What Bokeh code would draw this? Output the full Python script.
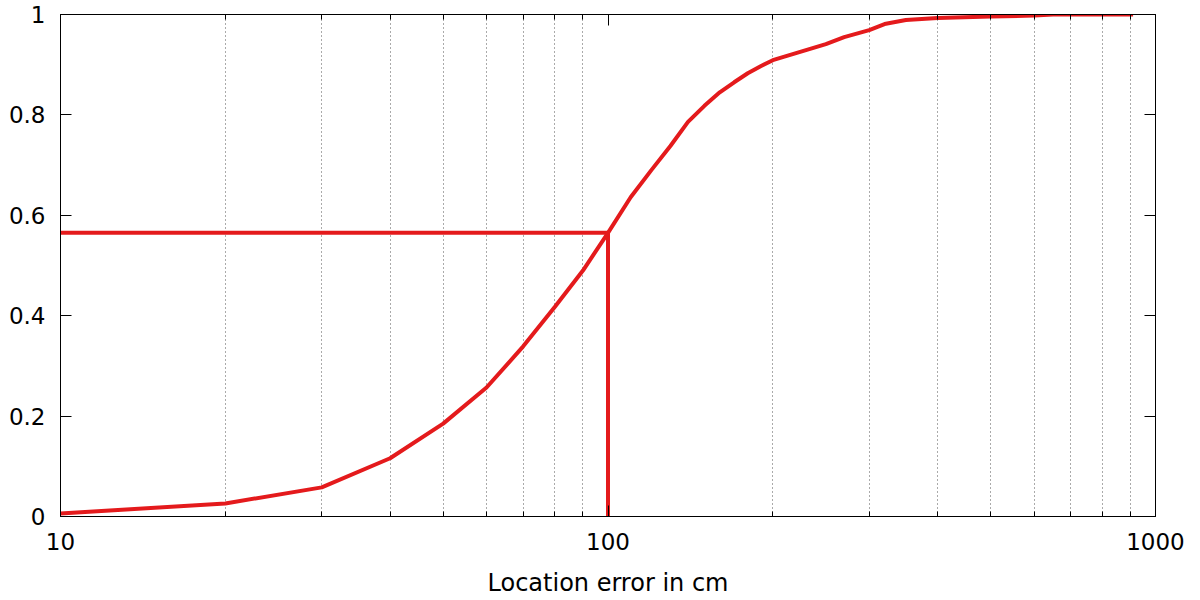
from bokeh.plotting import figure
from bokeh.models import FixedTicker, LogAxis, LinearAxis, CustomJSTickFormatter, Range1d
from bokeh.embed import file_html
from bokeh.resources import INLINE

# Data
x_err = [10, 20, 30, 40, 50, 60, 70, 80, 90, 100, 110, 120, 130, 140, 150, 160,
         170, 180, 190, 200, 250, 270, 300, 320, 350, 400, 500, 600, 650, 910]
cdf = [0.006, 0.026, 0.058, 0.116, 0.185, 0.257, 0.339, 0.418, 0.49, 0.565, 0.636,
       0.69, 0.738, 0.786, 0.818, 0.845, 0.865, 0.883, 0.897, 0.909, 0.941, 0.955,
       0.969, 0.981, 0.989, 0.993, 0.996, 0.998, 1.0, 1.0]
ref_x = 100
ref_y = 0.565
x_min, x_max = 10, 1000
y_min, y_max = 0, 1
x_major = [10, 100, 1000]
x_minor = [20, 30, 40, 50, 60, 70, 80, 90, 200, 300, 400, 500, 600, 700, 800, 900]
y_major = [0, 0.2, 0.4, 0.6, 0.8, 1.0]
x_title = "Location error in cm"

RED = "#e41a1c"
FONT = "DejaVu Sans"
FS = "23px"

p = figure(width=1190, height=599, x_axis_type="log",
           x_range=Range1d(x_min, x_max), y_range=Range1d(y_min, y_max),
           output_backend="svg", toolbar_location=None,
           min_border_left=60, min_border_right=35, min_border_top=14, min_border_bottom=83)
p.outline_line_color = "black"
p.outline_line_width = 1

xt = FixedTicker(ticks=x_major, minor_ticks=x_minor)
yt = FixedTicker(ticks=y_major)
xfmt = CustomJSTickFormatter(code="return tick.toString();")
yfmt = CustomJSTickFormatter(code="return (Math.round(tick*10)/10).toString();")
nofmt = CustomJSTickFormatter(code="return '';")

def style(ax):
    ax.major_tick_in = 11
    ax.major_tick_out = 0
    ax.minor_tick_in = 5
    ax.minor_tick_out = 0
    ax.axis_line_color = "black"
    ax.major_tick_line_color = "black"
    ax.minor_tick_line_color = "black"
    ax.major_label_text_font = FONT
    ax.major_label_text_color = "black"
    ax.major_label_text_font_size = FS

xa = p.xaxis[0]
xa.ticker = xt
xa.formatter = xfmt
style(xa)
xa.major_label_standoff = 16
xa.axis_label = x_title
xa.axis_label_text_font = FONT
xa.axis_label_text_font_size = "24px"
xa.axis_label_text_font_style = "normal"
xa.axis_label_text_color = "black"
xa.axis_label_standoff = 16

ya = p.yaxis[0]
ya.ticker = yt
ya.formatter = yfmt
style(ya)
ya.minor_tick_in = 0
ya.major_label_standoff = 15

top = LogAxis(ticker=xt, formatter=nofmt)
style(top)
top.major_label_standoff = 0
p.add_layout(top, "above")

right = LinearAxis(ticker=yt, formatter=nofmt)
style(right)
right.major_label_standoff = 0
right.minor_tick_in = 0
p.add_layout(right, "right")

p.xgrid.ticker = xt
p.xgrid.grid_line_color = None
p.xgrid.minor_grid_line_color = "#555555"
p.xgrid.minor_grid_line_dash = "1 3"
p.xgrid.minor_grid_line_width = 1
p.ygrid.grid_line_color = None

p.line([x_min, ref_x], [ref_y, ref_y], line_color=RED, line_width=4)
p.line([ref_x, ref_x], [y_min, ref_y], line_color=RED, line_width=4)
p.line(x_err, cdf, line_color=RED, line_width=4)

open("out.html", "w").write(file_html(p, INLINE))
